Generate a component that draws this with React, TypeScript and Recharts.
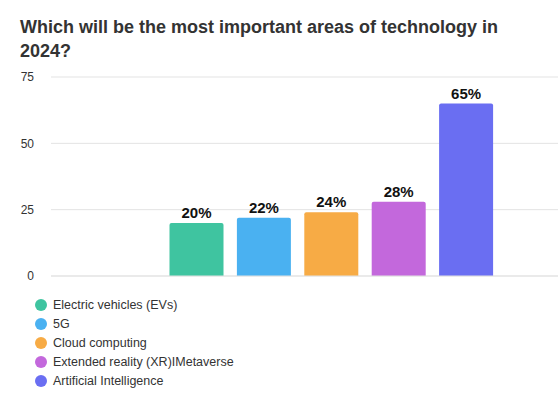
import { BarChart, Bar, XAxis, YAxis, CartesianGrid, Cell, LabelList, ReferenceLine } from "recharts";

const areas = [
  "Electric vehicles (EVs)",
  "5G",
  "Cloud computing",
  "Extended reality (XR)IMetaverse",
  "Artificial Intelligence",
];
const shares = [20, 22, 24, 28, 65];
const colors = ["#3fc4a0", "#4ab1f1", "#f7ab45", "#c368dc", "#6a6ef2"];
const yTicks = [0, 25, 50, 75];

const data = areas.map((name, i) => ({ name, value: shares[i] }));

const font = "'Liberation Sans', Arial, Helvetica, sans-serif";

export default function App() {
  return (
    <div style={{ position: "absolute", left: 0, top: 0, width: 558, height: 407, background: "#fff", fontFamily: font }}>
      <div
        style={{
          position: "absolute",
          left: 20,
          top: 15,
          width: 530,
          fontSize: 18,
          lineHeight: "24px",
          fontWeight: 700,
          color: "#333",
        }}
      >
        Which will be the most important areas of technology in 2024?
      </div>

      <div style={{ position: "absolute", left: 0, top: 60 }}>
        <BarChart width={558} height={222} data={data} margin={{ top: 17, right: 0, bottom: 6, left: 0 }} barCategoryGap={6.5}>
          <CartesianGrid vertical={false} stroke="#e3e3e3" />
          <XAxis dataKey="name" hide padding={{ left: 112, right: 58 }} />
          <YAxis
            width={51}
            domain={[0, 75]}
            ticks={yTicks}
            interval={0}
            axisLine={false}
            tickLine={false}
            tickSize={6}
            tickMargin={11}
            tick={{ fontSize: 12, fill: "#333", fontFamily: font }}
          />
          <ReferenceLine y={0} stroke="#e3e3e3" />
          <Bar dataKey="value" radius={[2, 2, 0, 0]} isAnimationActive={false}>
            {data.map((d, i) => (
              <Cell key={d.name} fill={colors[i]} />
            ))}
            <LabelList
              dataKey="value"
              position="top"
              formatter={(v: number) => `${v}%`}
              style={{ fontSize: 15, fontWeight: 700, fill: "#111", fontFamily: font }}
            />
          </Bar>
        </BarChart>
      </div>

      <div style={{ position: "absolute", left: 35, top: 295 }}>
        {areas.map((name, i) => (
          <div key={name} style={{ display: "flex", alignItems: "center", height: 19, fontSize: 12.5, color: "#333" }}>
            <span
              style={{ width: 12, height: 12, borderRadius: 6, background: colors[i], marginRight: 6, display: "inline-block" }}
            />
            {name}
          </div>
        ))}
      </div>
    </div>
  );
}
